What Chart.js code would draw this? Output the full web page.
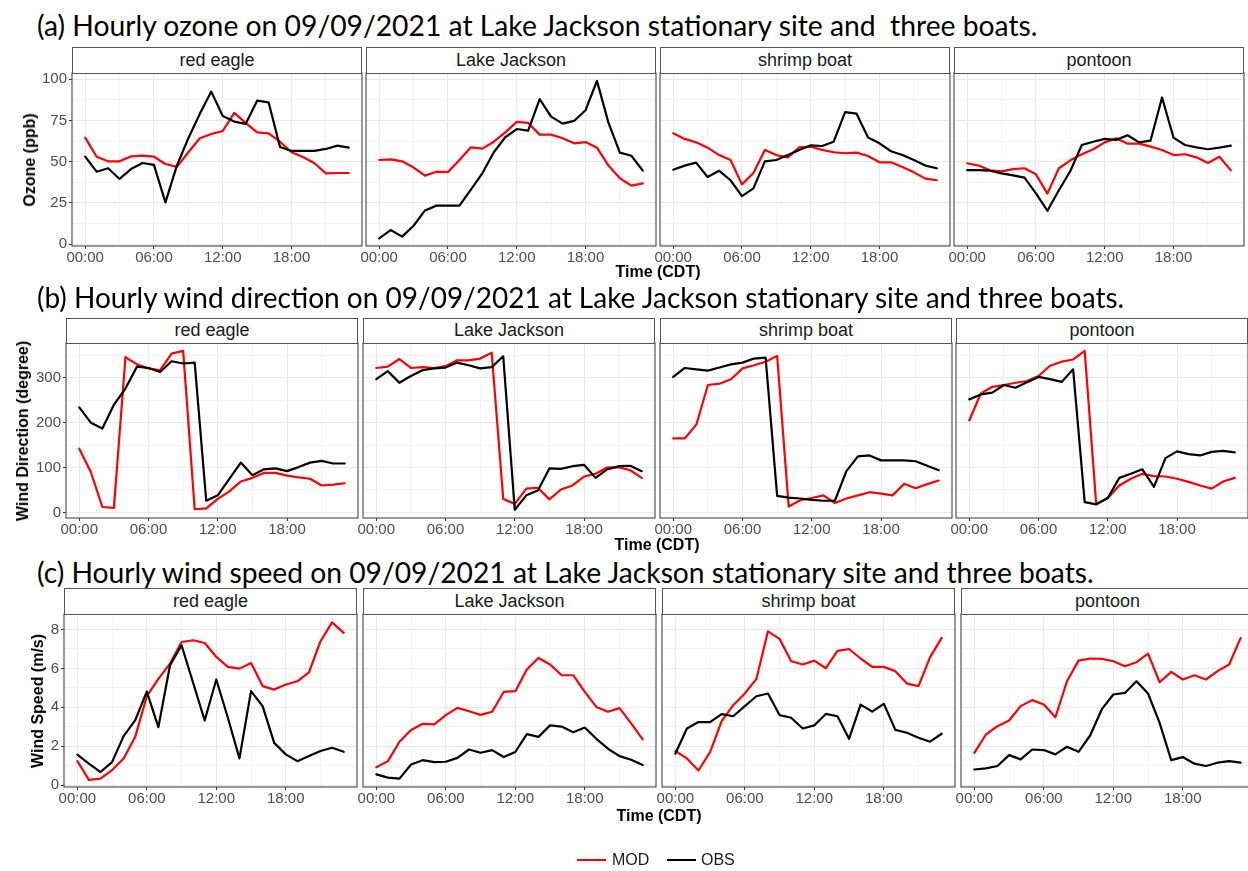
<!DOCTYPE html>
<html>
<head>
<meta charset="utf-8">
<script src="https://cdn.jsdelivr.net/npm/chart.js@4.4.1/dist/chart.umd.min.js"></script>
<style>
  html, body { margin: 0; padding: 0; background: #ffffff; }
  body { width: 1248px; height: 871px; overflow: hidden; position: relative;
         font-family: "Liberation Sans", Arial, sans-serif; }
  canvas { position: absolute; }
  .title { position: absolute; left: 37px; white-space: pre; color: #000;
           font-family: Lato, "Open Sans", sans-serif; line-height: 32px; }
  .strip { position: absolute; box-sizing: border-box; border: 1.2px solid #555;
           background: #fff; text-align: center; color: #1a1a1a; font-size: 18px; }
  .ytitle { position: absolute; font-weight: bold; font-size: 16px; color: #000;
            white-space: nowrap; transform: translate(-50%, -50%) rotate(-90deg); }
  .xtitle { position: absolute; font-weight: bold; font-size: 16px; color: #000;
            white-space: nowrap; transform: translate(-50%, -50%); }
  .legend-line { position: absolute; height: 2.2px; }
  .legend-text { position: absolute; font-size: 16px; color: #1a1a1a; line-height: 20px; }
</style>
</head>
<body>
<script>
// ---- hours, labels --------------------------------------------------------
const hours = [0,1,2,3,4,5,6,7,8,9,10,11,12,13,14,15,16,17,18,19,20,21,22,23];
const timeTickLabels = ['00:00','06:00','12:00','18:00'];
const xTickValues = [0,3,6,9,12,15,18,21];
const siteNames = ['red eagle','Lake Jackson','shrimp boat','pontoon'];
const seriesNames = ['MOD','OBS'];

// ---- (a) hourly ozone, ppb --------------------------------------------------
const ozoneModRedEagle   = [64.6,53.0,50.2,50.2,53.2,53.6,53.0,48.6,46.8,55.7,64.2,66.8,68.6,79.6,73.5,67.8,67.2,62.1,55.7,52.8,49.0,42.9,43.1,43.1];
const ozoneObsRedEagle   = [53.0,43.9,46.0,39.5,45.5,49.2,48.0,25.3,47.6,64.2,79.0,92.5,77.7,74.3,72.9,87.0,86.0,58.9,56.5,56.5,56.5,57.7,59.7,58.5];
const ozoneModLakeJackson= [51.0,51.4,50.2,46.4,41.5,43.9,43.7,51.0,58.7,57.9,62.1,67.8,74.1,73.5,66.4,66.4,64.2,61.1,61.9,58.5,47.6,39.9,35.4,36.8];
const ozoneObsLakeJackson= [3.4,8.5,4.5,11.1,20.4,23.3,23.3,23.3,33.0,42.9,55.7,64.8,69.8,68.8,88.0,77.3,73.1,74.7,81.2,99.0,73.7,55.5,53.6,44.5];
const ozoneModShrimp     = [67.2,63.8,61.7,58.5,54.0,51.0,36.2,43.1,57.1,54.0,52.6,58.7,59.1,57.1,55.7,55.1,55.5,53.4,49.6,49.6,46.8,43.5,39.7,38.7];
const ozoneObsShrimp     = [45.1,47.6,49.4,40.7,44.5,38.7,29.1,33.8,50.2,51.0,54.0,57.1,59.9,59.5,62.1,80.0,79.1,64.6,61.1,56.3,54.0,51.0,47.6,46.0];
const ozoneModPontoon    = [49.0,47.6,44.7,44.1,45.5,46.0,42.3,30.6,46.0,50.8,54.5,57.5,61.7,64.2,60.9,60.9,59.1,57.1,54.0,54.5,52.6,49.2,53.0,44.7];
const ozoneObsPontoon    = [44.9,44.9,44.5,42.9,41.7,40.3,30.8,20.2,32.6,44.3,60.1,62.1,63.8,63.2,66.0,61.7,62.8,88.9,64.6,60.1,58.7,57.5,58.5,59.7];

// ---- (b) hourly wind direction, degree --------------------------------------
const wdirModRedEagle    = [142,90,12,10,346,330,321,317,354,360,7,9,30,47,69,77,88,88,82,78,75,60,62,65];
const wdirObsRedEagle    = [234,200,187,240,276,325,322,313,337,332,334,26,38,75,111,83,96,98,92,101,111,115,109,109];
const wdirModLakeJackson = [322,325,342,322,324,322,326,339,339,343,356,30,19,53,55,29,51,60,80,86,100,101,94,77];
const wdirObsLakeJackson = [297,315,289,304,317,321,323,334,328,321,324,348,6,38,49,98,97,103,106,77,96,103,104,92];
const wdirModShrimp      = [165,165,196,284,287,297,321,328,336,349,13,27,32,38,21,31,38,45,42,38,64,54,63,71];
const wdirObsShrimp      = [302,322,319,316,323,330,334,343,345,37,33,31,28,26,26,92,125,127,116,116,116,114,104,94];
const wdirModPontoon     = [205,265,280,284,289,293,304,327,336,341,360,18,32,60,75,86,81,80,75,68,60,53,69,77];
const wdirObsPontoon     = [252,263,267,284,278,290,302,297,291,319,23,18,32,77,86,96,57,121,136,130,127,135,137,134];

// ---- (c) hourly wind speed, m/s ---------------------------------------------
const wspdModRedEagle    = [1.23,0.27,0.33,0.77,1.37,2.48,4.57,5.46,6.25,7.36,7.45,7.31,6.59,6.08,5.99,6.28,5.09,4.91,5.17,5.34,5.80,7.40,8.37,7.83];
const wspdObsRedEagle    = [1.56,1.10,0.67,1.18,2.52,3.34,4.81,2.98,6.15,7.19,5.26,3.32,5.43,3.46,1.37,4.83,4.06,2.17,1.58,1.23,1.49,1.75,1.92,1.71];
const wspdModLakeJackson = [0.92,1.23,2.23,2.83,3.15,3.12,3.60,3.97,3.80,3.61,3.77,4.79,4.83,5.94,6.54,6.20,5.65,5.65,4.79,4.02,3.77,3.96,3.17,2.35];
const wspdObsLakeJackson = [0.55,0.38,0.33,1.06,1.28,1.18,1.20,1.40,1.83,1.66,1.80,1.44,1.70,2.62,2.48,3.07,3.01,2.72,2.96,2.38,1.87,1.49,1.30,1.03];
const wspdModShrimp      = [1.75,1.37,0.75,1.70,3.29,4.11,4.71,5.46,7.91,7.52,6.37,6.20,6.40,6.01,6.90,7.00,6.51,6.08,6.08,5.86,5.22,5.09,6.58,7.57];
const wspdObsShrimp      = [1.61,2.91,3.24,3.24,3.65,3.54,4.06,4.57,4.71,3.60,3.46,2.91,3.07,3.66,3.54,2.38,4.14,3.78,4.18,2.84,2.69,2.43,2.23,2.64];
const wspdModPontoon     = [1.66,2.60,3.03,3.32,4.06,4.37,4.14,3.49,5.34,6.40,6.51,6.49,6.37,6.11,6.32,6.76,5.29,5.82,5.43,5.65,5.43,5.86,6.20,7.57];
const wspdObsPontoon     = [0.80,0.86,0.98,1.54,1.32,1.83,1.80,1.58,1.97,1.71,2.55,3.89,4.66,4.74,5.34,4.71,3.20,1.28,1.44,1.10,0.98,1.15,1.23,1.15];

// ---- y-axis breaks -------------------------------------------------------------
const ozoneTicks = [0,25,50,75,100];
const wdirTicks  = [0,100,200,300];
const wspdTicks  = [0,2,4,6,8];

// ---- row layout ----------------------------------------------------------------
const rows = [
  { title: '(a) Hourly ozone on 09/09/2021 at Lake Jackson stationary site and  three boats.',
    titleTop: 9, titleWidth: 1003,
    mod: [ozoneModRedEagle, ozoneModLakeJackson, ozoneModShrimp, ozoneModPontoon],
    obs: [ozoneObsRedEagle, ozoneObsLakeJackson, ozoneObsShrimp, ozoneObsPontoon],
    major: ozoneTicks, yMin: -1.2, yMax: 103.8,
    ytitle: 'Ozone (ppb)', ytitleX: 30, xtitleY: 272,
    stripTop: 47, plotTop: 73, plotBottom: 246, lefts: [72, 366, 660, 954], width: 290 },
  { title: '(b) Hourly wind direction on 09/09/2021 at Lake Jackson stationary site and three boats.',
    titleTop: 281, titleWidth: 1090,
    mod: [wdirModRedEagle, wdirModLakeJackson, wdirModShrimp, wdirModPontoon],
    obs: [wdirObsRedEagle, wdirObsLakeJackson, wdirObsShrimp, wdirObsPontoon],
    major: wdirTicks, yMin: -12.5, yMax: 377.7,
    ytitle: 'Wind Direction (degree)', ytitleX: 23, xtitleY: 545,
    stripTop: 318, plotTop: 343, plotBottom: 518, lefts: [66, 363, 660, 956], width: 292 },
  { title: '(c) Hourly wind speed on 09/09/2021 at Lake Jackson stationary site and three boats.',
    titleTop: 556, titleWidth: 1060,
    mod: [wspdModRedEagle, wspdModLakeJackson, wspdModShrimp, wspdModPontoon],
    obs: [wspdObsRedEagle, wspdObsLakeJackson, wspdObsShrimp, wspdObsPontoon],
    major: wspdTicks, yMin: -0.1, yMax: 8.8,
    ytitle: 'Wind Speed (m/s)', ytitleX: 38, xtitleY: 816,
    stripTop: 588, plotTop: 614, plotBottom: 787, lefts: [64, 363, 662, 961], width: 293 }
];

const MOD_COLOR = '#ff0000';
const OBS_COLOR = '#000000';
const GRID_MAJOR = '#e8e8e8';
const GRID_MINOR = '#f3f3f3';
const TICK_FONT = { family: '"Liberation Sans", Arial, sans-serif', size: 15 };

// panel border drawn over the data, as in a boxed facet
const panelFrame = {
  id: 'panelFrame',
  afterDatasetsDraw(chart) {
    const a = chart.chartArea, ctx = chart.ctx;
    ctx.save();
    ctx.strokeStyle = '#555555';
    ctx.lineWidth = 1.2;
    ctx.strokeRect(a.left, a.top, a.right - a.left, a.bottom - a.top);
    ctx.restore();
  }
};

function withMinor(major) {
  const step = major[1] - major[0];
  const out = [];
  major.forEach(v => { out.push(v); out.push(v + step / 2); });
  return out;
}

function addDiv(cls, text, style) {
  const d = document.createElement('div');
  d.className = cls;
  if (text !== null) d.textContent = text;
  Object.assign(d.style, style);
  document.body.appendChild(d);
  return d;
}

function buildPanel(row, i) {
  const left = row.lefts[i], W = row.width, H = row.plotBottom - row.plotTop;
  const first = i === 0;
  // generous top padding keeps the top y label from pushing the plot area down
  const padL = first ? 56 : 16, padT = 14, padR = 3, padB = 26;
  const cv = document.createElement('canvas');
  cv.width = padL + W + padR;
  cv.height = padT + H + padB;
  cv.style.left = (left - padL) + 'px';
  cv.style.top = (row.plotTop - padT) + 'px';
  cv.style.width = cv.width + 'px';
  cv.style.height = cv.height + 'px';
  document.body.appendChild(cv);

  const yVals = withMinor(row.major).filter(v => v <= row.yMax);
  const isMajorY = v => row.major.includes(v);
  const isMajorX = v => v % 6 === 0;

  new Chart(cv, {
    type: 'line',
    data: {
      datasets: [
        { label: seriesNames[0], data: hours.map((h, k) => ({ x: h, y: row.mod[i][k] })),
          borderColor: MOD_COLOR, borderWidth: 2.2, pointRadius: 0, tension: 0,
          borderJoinStyle: 'round', borderCapStyle: 'round', fill: false, order: 2 },
        { label: seriesNames[1], data: hours.map((h, k) => ({ x: h, y: row.obs[i][k] })),
          borderColor: OBS_COLOR, borderWidth: 2.2, pointRadius: 0, tension: 0,
          borderJoinStyle: 'round', borderCapStyle: 'round', fill: false, order: 1 }
      ]
    },
    options: {
      responsive: false, animation: false, devicePixelRatio: 1,
      layout: { padding: { left: first ? 0 : padL, top: padT, right: padR, bottom: 0 } },
      plugins: { legend: { display: false }, tooltip: { enabled: false } },
      scales: {
        x: {
          type: 'linear', min: -1.15, max: 24.15,
          afterBuildTicks: s => { s.ticks = xTickValues.map(v => ({ value: v })); },
          afterFit: s => { s.height = padB; },
          ticks: { autoSkip: false, maxRotation: 0, minRotation: 0, padding: 0,
                   font: TICK_FONT, color: '#4d4d4d',
                   callback: v => isMajorX(v) ? timeTickLabels[v / 6] : '' },
          grid: { color: c => isMajorX(c.tick.value) ? GRID_MAJOR : GRID_MINOR,
                  lineWidth: 1, tickLength: 3,
                  tickColor: c => isMajorX(c.tick.value) ? '#333333' : 'rgba(0,0,0,0)' },
          border: { display: false }
        },
        y: {
          type: 'linear', min: row.yMin, max: row.yMax,
          afterBuildTicks: s => { s.ticks = yVals.map(v => ({ value: v })); },
          afterFit: s => { s.width = first ? padL : 0; },
          ticks: { display: first, padding: 2, font: TICK_FONT, color: '#4d4d4d',
                   callback: v => isMajorY(v) ? String(v) : '' },
          grid: { color: c => isMajorY(c.tick.value) ? GRID_MAJOR : GRID_MINOR,
                  lineWidth: 1, drawTicks: first, tickLength: 3,
                  tickColor: c => isMajorY(c.tick.value) ? '#333333' : 'rgba(0,0,0,0)' },
          border: { display: false }
        }
      }
    },
    plugins: [panelFrame]
  });

  addDiv('strip', siteNames[i], {
    left: left + 'px', top: row.stripTop + 'px', width: W + 'px',
    height: (row.plotTop - row.stripTop + 1) + 'px',
    lineHeight: (row.plotTop - row.stripTop - 2) + 'px'
  });
}

// title sized to its measured line length
const measure = document.createElement('canvas').getContext('2d');
function fitTitle(row) {
  measure.font = '100px Lato, "Open Sans", sans-serif';
  const w = measure.measureText(row.title).width;
  const size = 100 * row.titleWidth / w;
  addDiv('title', row.title, { top: row.titleTop + 'px', fontSize: size.toFixed(2) + 'px' });
}

rows.forEach(row => {
  fitTitle(row);
  for (let i = 0; i < 4; i++) buildPanel(row, i);
  addDiv('ytitle', row.ytitle, { left: row.ytitleX + 'px', top: ((row.plotTop + row.plotBottom) / 2) + 'px' });
  const span = (row.lefts[0] + row.lefts[3] + row.width) / 2;
  addDiv('xtitle', 'Time (CDT)', { left: span + 'px', top: row.xtitleY + 'px' });
});

// legend along the bottom
addDiv('legend-line', null, { left: '577px', top: '859px', width: '29px', background: MOD_COLOR });
addDiv('legend-text', seriesNames[0], { left: '612px', top: '850px' });
addDiv('legend-line', null, { left: '667px', top: '859px', width: '29px', background: OBS_COLOR });
addDiv('legend-text', seriesNames[1], { left: '701px', top: '850px' });
</script>
</body>
</html>
